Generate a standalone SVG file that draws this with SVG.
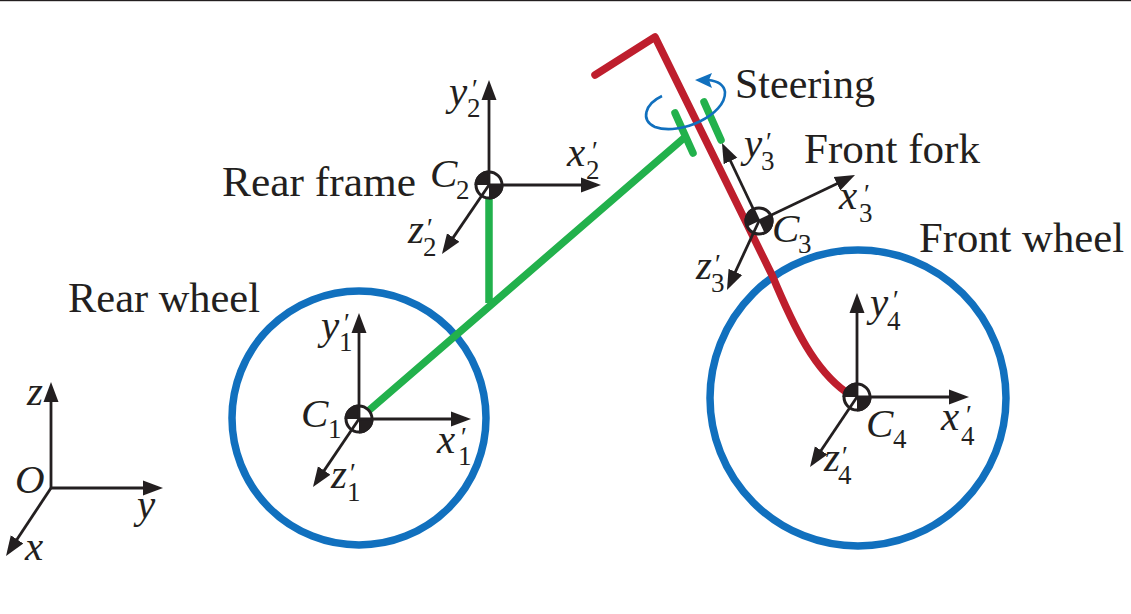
<svg xmlns="http://www.w3.org/2000/svg" width="1131" height="614" viewBox="0 0 1131 614">
<style>
text{font-family:"Liberation Serif","Times New Roman",serif;fill:#231f20}
.l{font-size:42px}
.m{font-size:41px;font-style:italic}
.s{font-size:27px;font-style:normal}
.p{font-size:27px;font-style:normal}
.wheel{fill:none;stroke:#1170be;stroke-width:7.5}
.g{fill:none;stroke:#22b14c;stroke-width:7.5;stroke-linecap:round}
.b{stroke-linecap:butt}
.r{fill:none;stroke:#be1e2d;stroke-width:7.5;stroke-linecap:round;stroke-linejoin:round}
.ax{fill:none;stroke:#231f20;stroke-width:2.8;marker-end:url(#a)}
</style>
<defs>
<marker id="a" markerUnits="userSpaceOnUse" markerWidth="26" markerHeight="20" viewBox="0 -10 26 20" refX="15" refY="0" orient="auto"><path d="M0,-7.500 L20,0 L0,7.500 Z" fill="#231f20"/></marker>
<g id="com"><circle r="13" fill="#fff" stroke="#231f20" stroke-width="3"/><path d="M0,0V-14.500A14.500,14.500 0 0 0 -14.500,0ZM0,0V14.500A14.500,14.500 0 0 0 14.500,0Z" fill="#231f20"/></g>
</defs>
<rect x="0" y="0" width="1131" height="1.2" fill="#231f20"/>
<g id="rear-wheel"><circle class="wheel" cx="359" cy="418" r="127"/><text class="l" x="68" y="312" textLength="192" lengthAdjust="spacingAndGlyphs">Rear wheel</text></g>
<g id="front-wheel"><circle class="wheel" cx="858" cy="398" r="148"/><text class="l" x="919" y="252" textLength="205" lengthAdjust="spacingAndGlyphs">Front wheel</text></g>
<g id="rear-frame"><path class="g b" d="M359,419L684,138M489,190V303"/><path class="g" d="M675,113L693,153M704,102L721,140"/><text class="l" x="222" y="196" textLength="194" lengthAdjust="spacingAndGlyphs">Rear frame</text></g>
<g id="front-fork"><path class="r" d="M595,75L655,37L772,275C795,330 815,370 846,392"/><text class="l" x="804" y="163" textLength="176" lengthAdjust="spacingAndGlyphs">Front fork</text></g>
<g id="steering"><path d="M662,96C645,104 640,120 655,127C680,136 726,115 725,92C724,85 718,81 708,80" fill="none" stroke="#1170be" stroke-width="2.6"/><path d="M695,80L712,73L709,80L712,88Z" fill="#1170be"/><text class="l" x="735" y="98" textLength="140" lengthAdjust="spacingAndGlyphs">Steering</text></g>
<g id="C1"><use href="#com" x="359" y="419"/><text class="m" x="301" y="427">C<tspan class="s" x="328" y="438">1</tspan></text></g>
<g id="C2"><use href="#com" x="489" y="185"/><text class="m" x="430" y="187">C<tspan class="s" x="456" y="199">2</tspan></text></g>
<g id="C3"><use href="#com" transform="translate(759 221) rotate(-25)"/><text class="m" x="772" y="242">C<tspan class="s" x="798" y="253">3</tspan></text></g>
<g id="C4"><use href="#com" x="857" y="397"/><text class="m" x="866" y="437">C<tspan class="s" x="893" y="448">4</tspan></text></g>
<g id="connectors">
<path class="ax" d="M51,488V387"/><path class="ax" d="M51,488H158"/><path class="ax" d="M51,488L8.800,551.800"/>
<path class="ax" d="M359,419V318"/><path class="ax" d="M359,419H466"/><path class="ax" d="M359,419L315.800,482.900"/>
<path class="ax" d="M489,185V85"/><path class="ax" d="M489,185H596"/><path class="ax" d="M489,185L444.800,249.900"/>
<path class="ax" d="M759,221L724.100,147.500"/><path class="ax" d="M759,221L850.500,177.200"/><path class="ax" d="M759,221L729.100,285.400"/>
<path class="ax" d="M857,397V298"/><path class="ax" d="M857,397H964"/><path class="ax" d="M857,397L812.800,462.800"/>
</g>
<g id="frame-O"><text class="m" x="15" y="493">O</text><text class="m" x="27" y="405">z</text><text class="m" x="137" y="518">y</text><text class="m" x="25" y="560">x</text></g>
<g id="labels-1"><text class="m" x="321" y="339">y<tspan class="p" x="344" y="332">′</tspan><tspan class="s" x="339" y="351">1</tspan></text><text class="m" x="437" y="453">x<tspan class="p" x="461" y="446">′</tspan><tspan class="s" x="458" y="465">1</tspan></text><text class="m" x="331" y="488">z<tspan class="p" x="350" y="482">′</tspan><tspan class="s" x="347" y="501">1</tspan></text></g>
<g id="labels-2"><text class="m" x="449" y="105">y<tspan class="p" x="472" y="98">′</tspan><tspan class="s" x="467" y="117">2</tspan></text><text class="m" x="567" y="166">x<tspan class="p" x="592" y="160">′</tspan><tspan class="s" x="586" y="179">2</tspan></text><text class="m" x="408" y="243">z<tspan class="p" x="427" y="237">′</tspan><tspan class="s" x="423" y="256">2</tspan></text></g>
<g id="labels-3"><text class="m" x="744" y="157">y<tspan class="p" x="766" y="151">′</tspan><tspan class="s" x="761" y="170">3</tspan></text><text class="m" x="839" y="209">x<tspan class="p" x="864" y="203">′</tspan><tspan class="s" x="859" y="222">3</tspan></text><text class="m" x="696" y="279">z<tspan class="p" x="715" y="273">′</tspan><tspan class="s" x="711" y="292">3</tspan></text></g>
<g id="labels-4"><text class="m" x="870" y="316">y<tspan class="p" x="893" y="309">′</tspan><tspan class="s" x="887" y="330">4</tspan></text><text class="m" x="941" y="430">x<tspan class="p" x="966" y="424">′</tspan><tspan class="s" x="961" y="445">4</tspan></text><text class="m" x="824" y="471">z<tspan class="p" x="842" y="465">′</tspan><tspan class="s" x="838" y="484">4</tspan></text></g>
</svg>
